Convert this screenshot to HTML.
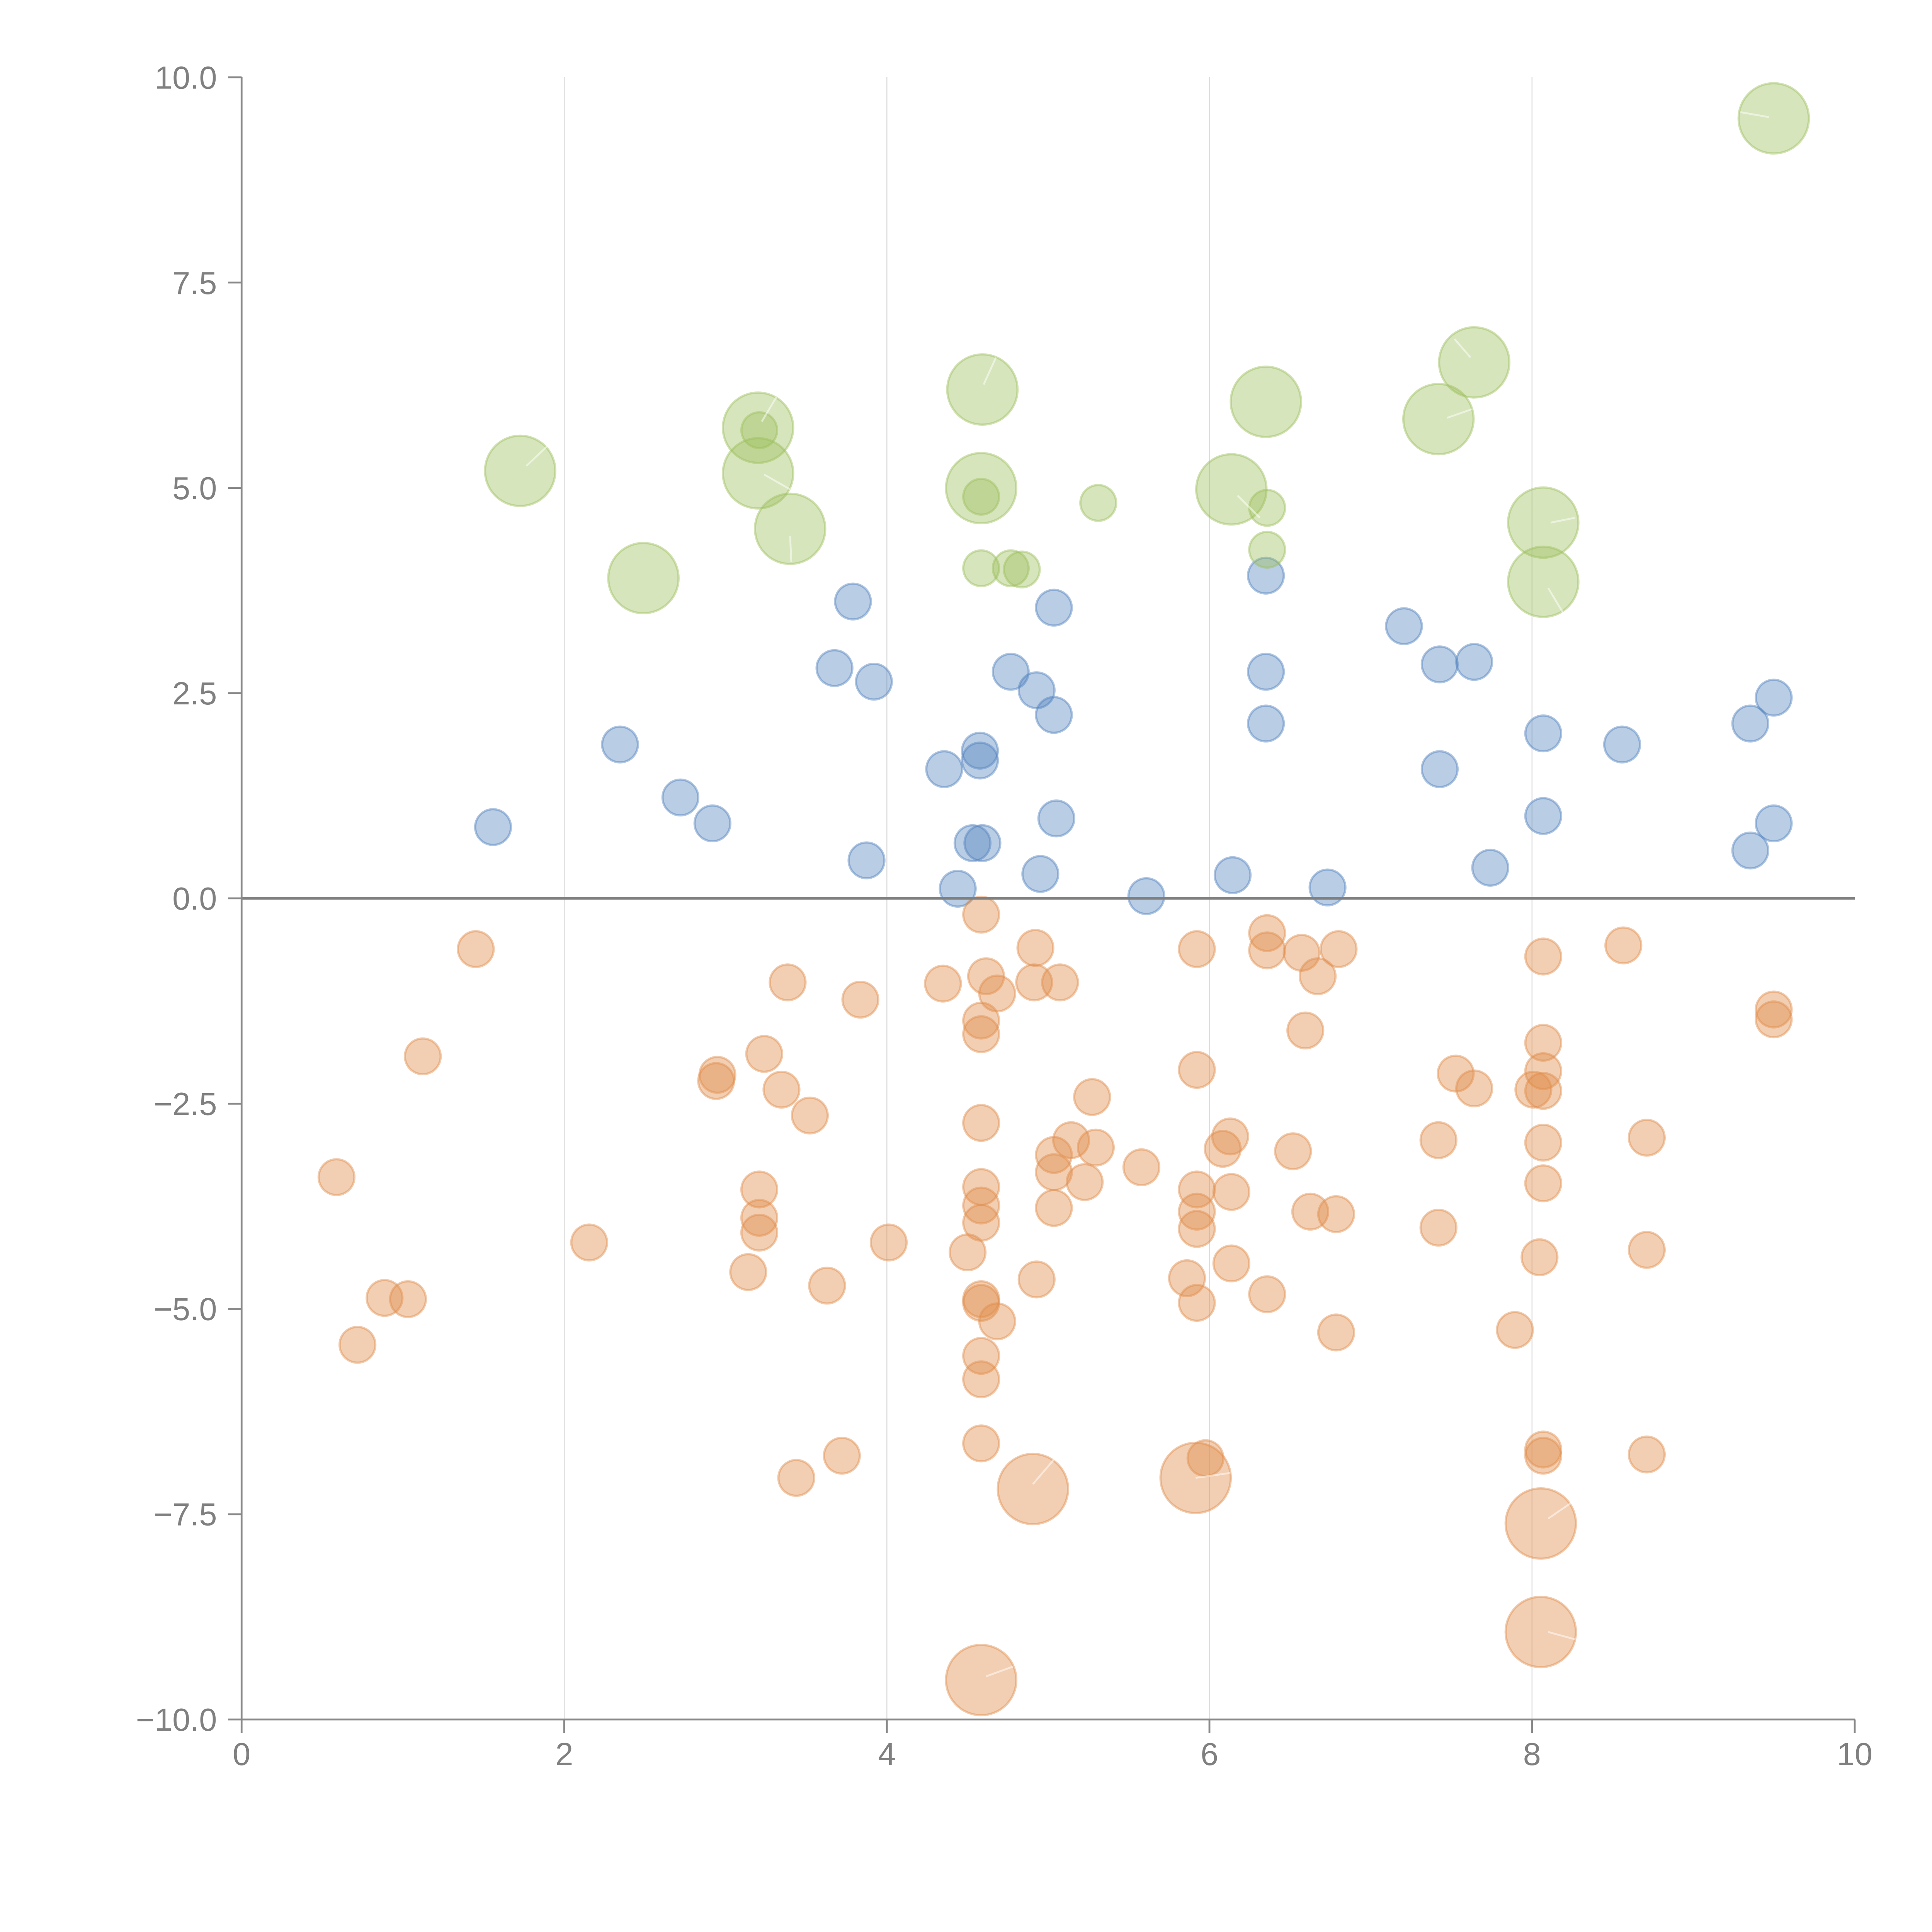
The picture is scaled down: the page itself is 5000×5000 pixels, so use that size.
<!DOCTYPE html>
<html><head><meta charset="utf-8"><style>html,body{margin:0;padding:0;background:#fff}svg{display:block}</style></head><body>
<svg width="5000" height="5000" viewBox="0 0 1567.4 1567.4" xmlns="http://www.w3.org/2000/svg" font-family="Liberation Sans, sans-serif">
<g stroke="#dddddd" stroke-width="0.8">
<line x1="457.8" y1="62.7" x2="457.8" y2="1395"/><line x1="719.5" y1="62.7" x2="719.5" y2="1395"/><line x1="981.2" y1="62.7" x2="981.2" y2="1395"/><line x1="1242.9" y1="62.7" x2="1242.9" y2="1395"/>
</g>
<g id="blue" fill="rgb(79,129,189)" fill-opacity="0.4" stroke="rgb(79,129,189)" stroke-opacity="0.45" stroke-width="1.8">
<circle cx="400" cy="671" r="14.5"/><circle cx="503" cy="604" r="14.5"/><circle cx="552" cy="647" r="14.5"/><circle cx="578" cy="668" r="14.5"/><circle cx="692" cy="488" r="14.5"/><circle cx="677" cy="542" r="14.5"/><circle cx="709" cy="553" r="14.5"/><circle cx="703" cy="698" r="14.5"/><circle cx="766" cy="624" r="14.5"/><circle cx="777" cy="721" r="14.5"/><circle cx="795" cy="609" r="14.5"/><circle cx="795" cy="617" r="14.5"/><circle cx="789" cy="684" r="14.5"/><circle cx="797" cy="684" r="14.5"/><circle cx="820" cy="545" r="14.5"/><circle cx="841" cy="560" r="14.5"/><circle cx="855" cy="493" r="14.5"/><circle cx="855" cy="580" r="14.5"/><circle cx="857" cy="664" r="14.5"/><circle cx="844" cy="709" r="14.5"/><circle cx="930" cy="727" r="14.5"/><circle cx="1000" cy="710" r="14.5"/><circle cx="1027" cy="467" r="14.5"/><circle cx="1027" cy="545" r="14.5"/><circle cx="1027" cy="587" r="14.5"/><circle cx="1077" cy="720" r="14.5"/><circle cx="1139" cy="508" r="14.5"/><circle cx="1168" cy="539" r="14.5"/><circle cx="1168" cy="624" r="14.5"/><circle cx="1196" cy="537" r="14.5"/><circle cx="1209" cy="704" r="14.5"/><circle cx="1252" cy="595" r="14.5"/><circle cx="1252" cy="662" r="14.5"/><circle cx="1316" cy="604" r="14.5"/><circle cx="1420" cy="587" r="14.5"/><circle cx="1439" cy="566" r="14.5"/><circle cx="1420" cy="690" r="14.5"/><circle cx="1439" cy="668" r="14.5"/>
</g>
<g fill="rgb(155,190,90)" fill-opacity="0.4" stroke="rgb(155,190,90)" stroke-opacity="0.45" stroke-width="1.8">
<circle cx="422" cy="382" r="28.5"/><circle cx="522" cy="469" r="28.5"/><circle cx="615" cy="347" r="28.5"/><circle cx="615" cy="384" r="28.5"/><circle cx="641" cy="429" r="28.5"/><circle cx="797" cy="316" r="28.5"/><circle cx="796" cy="396" r="28.5"/><circle cx="1027" cy="326" r="28.5"/><circle cx="999" cy="397" r="28.5"/><circle cx="1167" cy="340" r="28.5"/><circle cx="1196" cy="294" r="28.5"/><circle cx="1252" cy="424" r="28.5"/><circle cx="1252" cy="472" r="28.5"/><circle cx="1439" cy="96" r="28.5"/>
<circle cx="616" cy="349" r="14.5"/><circle cx="796" cy="461" r="14.5"/><circle cx="820" cy="461" r="14.5"/><circle cx="829" cy="462" r="14.5"/><circle cx="891" cy="408" r="14.5"/><circle cx="1028" cy="412" r="14.5"/><circle cx="1028" cy="446" r="14.5"/><circle cx="796" cy="403" r="14.5"/>
</g>
<g fill="rgb(225,140,75)" fill-opacity="0.42" stroke="rgb(225,140,75)" stroke-opacity="0.45" stroke-width="1.8">
<circle cx="386" cy="770" r="14.5"/><circle cx="343" cy="857" r="14.5"/><circle cx="273" cy="955" r="14.5"/><circle cx="290" cy="1091" r="14.5"/><circle cx="312" cy="1053" r="14.5"/><circle cx="331" cy="1054" r="14.5"/><circle cx="478" cy="1008" r="14.5"/><circle cx="582" cy="872" r="14.5"/><circle cx="581" cy="877" r="14.5"/><circle cx="620" cy="855" r="14.5"/><circle cx="634" cy="884" r="14.5"/><circle cx="657" cy="905" r="14.5"/><circle cx="639" cy="797" r="14.5"/><circle cx="698" cy="811" r="14.5"/><circle cx="616" cy="965" r="14.5"/><circle cx="616" cy="988" r="14.5"/><circle cx="616" cy="1000" r="14.5"/><circle cx="607" cy="1032" r="14.5"/><circle cx="671" cy="1043" r="14.5"/><circle cx="721" cy="1008" r="14.5"/><circle cx="683" cy="1181" r="14.5"/><circle cx="646" cy="1199" r="14.5"/><circle cx="765" cy="798" r="14.5"/><circle cx="796" cy="742" r="14.5"/><circle cx="800" cy="792" r="14.5"/><circle cx="809" cy="806" r="14.5"/><circle cx="796" cy="828" r="14.5"/><circle cx="796" cy="839" r="14.5"/><circle cx="840" cy="769" r="14.5"/><circle cx="839" cy="797" r="14.5"/><circle cx="860" cy="797" r="14.5"/><circle cx="796" cy="911" r="14.5"/><circle cx="886" cy="890" r="14.5"/><circle cx="869" cy="925" r="14.5"/><circle cx="855" cy="937" r="14.5"/><circle cx="855" cy="951" r="14.5"/><circle cx="889" cy="931" r="14.5"/><circle cx="880" cy="959" r="14.5"/><circle cx="855" cy="980" r="14.5"/><circle cx="926" cy="947" r="14.5"/><circle cx="796" cy="963" r="14.5"/><circle cx="796" cy="978" r="14.5"/><circle cx="796" cy="992" r="14.5"/><circle cx="785" cy="1016" r="14.5"/><circle cx="841" cy="1038" r="14.5"/><circle cx="796" cy="1054" r="14.5"/><circle cx="796" cy="1057" r="14.5"/><circle cx="809" cy="1072" r="14.5"/><circle cx="796" cy="1100" r="14.5"/><circle cx="796" cy="1119" r="14.5"/><circle cx="796" cy="1171" r="14.5"/><circle cx="971" cy="770" r="14.5"/><circle cx="971" cy="868" r="14.5"/><circle cx="998" cy="922" r="14.5"/><circle cx="992" cy="932" r="14.5"/><circle cx="971" cy="965" r="14.5"/><circle cx="971" cy="983" r="14.5"/><circle cx="971" cy="997" r="14.5"/><circle cx="999" cy="967" r="14.5"/><circle cx="999" cy="1025" r="14.5"/><circle cx="963" cy="1037" r="14.5"/><circle cx="971" cy="1057" r="14.5"/><circle cx="1028" cy="757" r="14.5"/><circle cx="1028" cy="771" r="14.5"/><circle cx="1056" cy="773" r="14.5"/><circle cx="1069" cy="792" r="14.5"/><circle cx="1086" cy="770" r="14.5"/><circle cx="1059" cy="836" r="14.5"/><circle cx="1049" cy="934" r="14.5"/><circle cx="1063" cy="983" r="14.5"/><circle cx="1084" cy="985" r="14.5"/><circle cx="1028" cy="1050" r="14.5"/><circle cx="1084" cy="1081" r="14.5"/><circle cx="978" cy="1183" r="14.5"/><circle cx="1167" cy="925" r="14.5"/><circle cx="1167" cy="996" r="14.5"/><circle cx="1181" cy="871" r="14.5"/><circle cx="1196" cy="883" r="14.5"/><circle cx="1244" cy="884" r="14.5"/><circle cx="1252" cy="776" r="14.5"/><circle cx="1252" cy="846" r="14.5"/><circle cx="1252" cy="869" r="14.5"/><circle cx="1252" cy="885" r="14.5"/><circle cx="1252" cy="927" r="14.5"/><circle cx="1252" cy="960" r="14.5"/><circle cx="1249" cy="1020" r="14.5"/><circle cx="1229" cy="1079" r="14.5"/><circle cx="1252" cy="1176" r="14.5"/><circle cx="1252" cy="1181" r="14.5"/><circle cx="1317" cy="767" r="14.5"/><circle cx="1336" cy="923" r="14.5"/><circle cx="1336" cy="1014" r="14.5"/><circle cx="1336" cy="1180" r="14.5"/><circle cx="1439" cy="819" r="14.5"/><circle cx="1439" cy="827" r="14.5"/>
<circle cx="838" cy="1208" r="28.5"/><circle cx="970" cy="1199" r="28.5"/><circle cx="1250" cy="1236" r="28.5"/><circle cx="1250" cy="1324" r="28.5"/><circle cx="796" cy="1363" r="28.5"/>
</g>
<g stroke="#fff" stroke-opacity="0.5" stroke-width="1.5">
<line x1="838" y1="1204" x2="856" y2="1183"/><line x1="970" y1="1199" x2="998" y2="1195"/><line x1="1256" y1="1232" x2="1275" y2="1219"/><line x1="1256" y1="1324" x2="1278" y2="1330"/><line x1="800" y1="1360" x2="822" y2="1352"/>
<line x1="427" y1="378" x2="445" y2="361"/><line x1="618" y1="342" x2="630" y2="322"/><line x1="620" y1="385" x2="641" y2="397"/><line x1="641" y1="435" x2="642" y2="456"/><line x1="798" y1="312" x2="808" y2="290"/><line x1="1004" y1="402" x2="1022" y2="420"/><line x1="1174" y1="339" x2="1194" y2="332"/><line x1="1193" y1="290" x2="1180" y2="275"/><line x1="1258" y1="424" x2="1278" y2="420"/><line x1="1256" y1="477" x2="1268" y2="497"/><line x1="1435" y1="95" x2="1412" y2="91"/>
</g>
<line x1="196" y1="728.8" x2="1504.7" y2="728.8" stroke="#808080" stroke-width="2.2"/>
<g stroke="#888" stroke-width="1.5" fill="none">
<line x1="196" y1="62.7" x2="196" y2="1395"/>
<line x1="196" y1="1395" x2="1504.7" y2="1395"/>
<line x1="185" y1="62.7" x2="196" y2="62.7"/><line x1="185" y1="229.2" x2="196" y2="229.2"/><line x1="185" y1="395.8" x2="196" y2="395.8"/><line x1="185" y1="562.3" x2="196" y2="562.3"/><line x1="185" y1="728.8" x2="196" y2="728.8"/><line x1="185" y1="895.4" x2="196" y2="895.4"/><line x1="185" y1="1061.9" x2="196" y2="1061.9"/><line x1="185" y1="1228.5" x2="196" y2="1228.5"/><line x1="185" y1="1395" x2="196" y2="1395"/>
<line x1="196" y1="1395" x2="196" y2="1406"/><line x1="457.8" y1="1395" x2="457.8" y2="1406"/><line x1="719.5" y1="1395" x2="719.5" y2="1406"/><line x1="981.2" y1="1395" x2="981.2" y2="1406"/><line x1="1242.9" y1="1395" x2="1242.9" y2="1406"/><line x1="1504.7" y1="1395" x2="1504.7" y2="1406"/>
</g>
<g fill="#808080" font-size="26" text-anchor="end">
<text x="176" y="72">10.0</text><text x="176" y="238.5">7.5</text><text x="176" y="405">5.0</text><text x="176" y="571.5">2.5</text><text x="176" y="738">0.0</text><text x="176" y="904.5">−2.5</text><text x="176" y="1071">−5.0</text><text x="176" y="1237.5">−7.5</text><text x="176" y="1404">−10.0</text>
</g>
<g fill="#808080" font-size="26" text-anchor="middle">
<text x="196" y="1432">0</text><text x="457.8" y="1432">2</text><text x="719.5" y="1432">4</text><text x="981.2" y="1432">6</text><text x="1242.9" y="1432">8</text><text x="1504.7" y="1432">10</text>
</g>
</svg>
</body></html>
